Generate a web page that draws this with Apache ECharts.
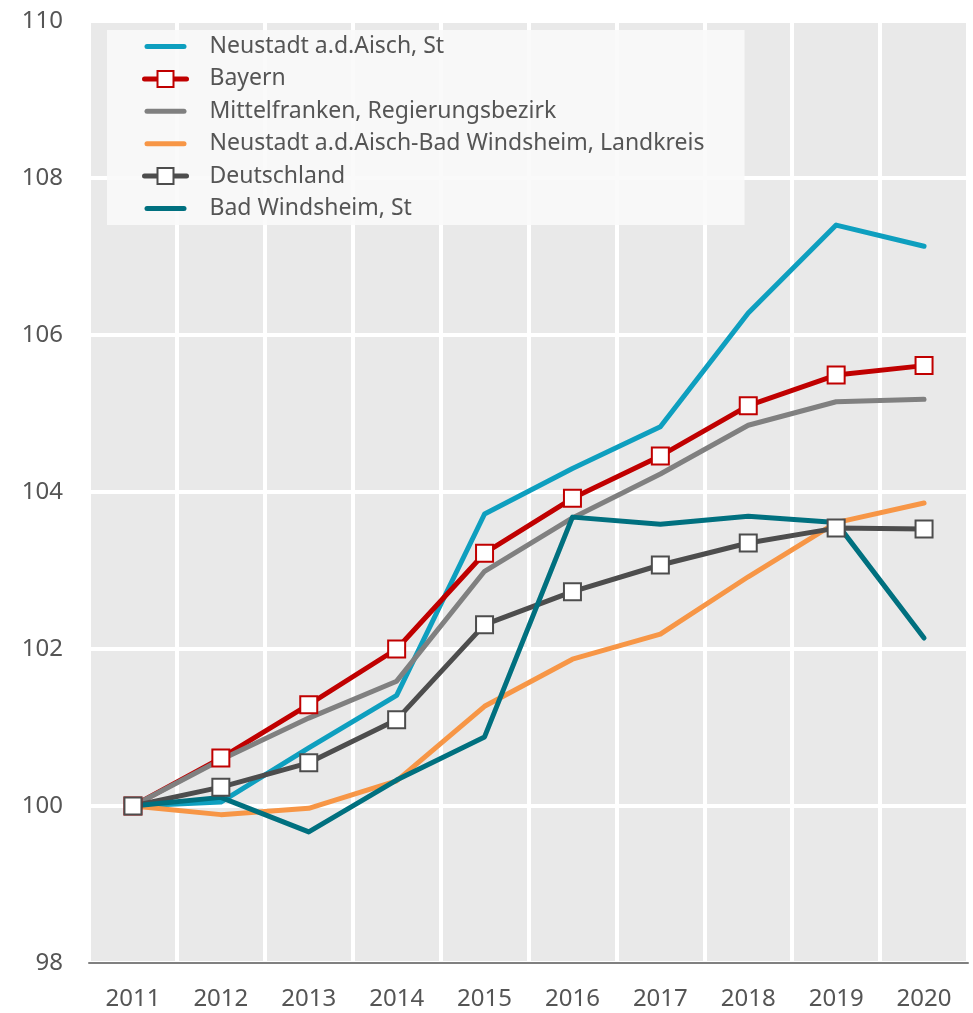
<!DOCTYPE html>
<html>
<head>
<meta charset="utf-8">
<script src="https://cdn.jsdelivr.net/npm/echarts@6/dist/echarts.min.js"></script>
<style>
  html, body { margin: 0; padding: 0; background: #fff; }
  #chart { width: 973px; height: 1013px; }
</style>
</head>
<body>
<div id="chart"></div>
<script>
var years = ['2011', '2012', '2013', '2014', '2015', '2016', '2017', '2018', '2019', '2020'];

var neustadtSt = [100, 100.05, 100.74, 101.41, 103.72, 104.30, 104.83, 106.28, 107.40, 107.13];
var bayern = [100, 100.61, 101.29, 102.00, 103.22, 103.92, 104.46, 105.10, 105.49, 105.61];
var mittelfranken = [100, 100.59, 101.12, 101.59, 102.99, 103.67, 104.23, 104.85, 105.15, 105.18];
var neustadtLk = [100, 99.89, 99.97, 100.32, 101.27, 101.87, 102.19, 102.92, 103.61, 103.86];
var deutschland = [100, 100.24, 100.55, 101.10, 102.31, 102.73, 103.07, 103.35, 103.54, 103.53];
var badWindsheim = [100, 100.11, 99.67, 100.33, 100.88, 103.68, 103.59, 103.69, 103.61, 102.14];

var myChart = echarts.init(document.getElementById('chart'));

// thick rounded bar used as legend icon for lines without markers
var barIcon = 'path://M2.5,0 H39.5 A2.5,2.5 0 0 1 39.5,5 H2.5 A2.5,2.5 0 0 1 2.5,0 Z';

function plainLine(name, data, color) {
    return {
        name: name,
        type: 'line',
        data: data,
        symbol: 'none',
        lineStyle: { color: color, width: 5, cap: 'round', join: 'round' },
        itemStyle: { color: color }
    };
}

function markedLine(name, data, color) {
    return {
        name: name,
        type: 'line',
        data: data,
        symbol: 'rect',
        symbolSize: 17,
        showAllSymbol: true,
        lineStyle: { color: color, width: 5, cap: 'round', join: 'round' },
        itemStyle: { color: '#fff', borderColor: color, borderWidth: 2 }
    };
}

var option = {
    animation: false,
    textStyle: { fontFamily: 'Noto Sans' },
    grid: {
        left: 89,
        right: 5,
        top: 21,
        bottom: 50,
        show: true,
        backgroundColor: '#e9e9e9',
        borderWidth: 0
    },
    legend: {
        orient: 'vertical',
        left: 107,
        top: 30,
        backgroundColor: 'rgba(250,250,250,0.9)',
        padding: [5, 40, 5, 35],
        itemWidth: 42,
        itemHeight: 20,
        itemGap: 9.4,
        lineStyle: { width: 5 },
        textStyle: { fontSize: 23, color: '#555', fontFamily: 'Noto Sans', padding: [0, 0, 0, 18] },
        data: [
            { name: 'Neustadt a.d.Aisch, St', icon: barIcon },
            'Bayern',
            { name: 'Mittelfranken, Regierungsbezirk', icon: barIcon },
            { name: 'Neustadt a.d.Aisch-Bad Windsheim, Landkreis', icon: barIcon },
            'Deutschland',
            { name: 'Bad Windsheim, St', icon: barIcon }
        ]
    },
    xAxis: {
        type: 'category',
        data: years,
        boundaryGap: true,
        axisLine: { lineStyle: { color: '#808080', width: 2 } },
        axisTick: { show: false },
        axisLabel: { fontSize: 24, color: '#555', margin: 24 },
        splitLine: { show: true, lineStyle: { color: '#fff', width: 4 } }
    },
    yAxis: {
        type: 'value',
        min: 98,
        max: 110,
        interval: 2,
        axisLine: { show: false },
        axisTick: { show: false },
        axisLabel: { fontSize: 24, color: '#555', margin: 26 },
        splitLine: { show: true, lineStyle: { color: '#fff', width: 4 } }
    },
    series: [
        plainLine('Neustadt a.d.Aisch, St', neustadtSt, '#0e9fbf'),
        markedLine('Bayern', bayern, '#c00000'),
        plainLine('Mittelfranken, Regierungsbezirk', mittelfranken, '#808080'),
        plainLine('Neustadt a.d.Aisch-Bad Windsheim, Landkreis', neustadtLk, '#f79646'),
        markedLine('Deutschland', deutschland, '#4d4d4d'),
        plainLine('Bad Windsheim, St', badWindsheim, '#00707f')
    ]
};

myChart.setOption(option);
</script>
</body>
</html>
